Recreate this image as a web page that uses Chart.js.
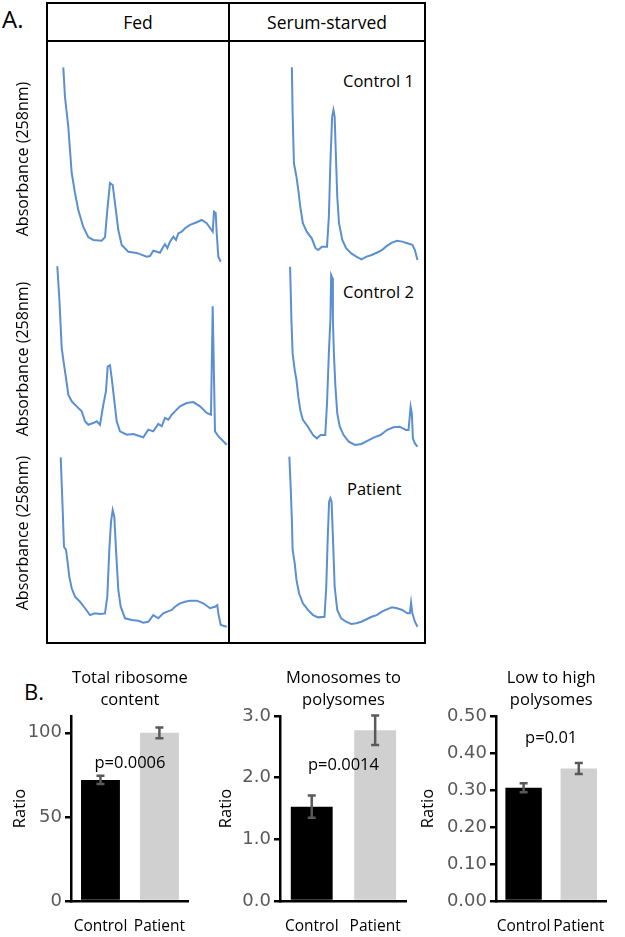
<!DOCTYPE html>
<html>
<head>
<meta charset="utf-8">
<script src="https://cdn.jsdelivr.net/npm/chart.js@4/dist/chart.umd.min.js"></script>
<style>
  body { margin: 0; background: #fff; font-family: 'Open Sans', sans-serif; }
  #page { position: relative; width: 625px; height: 937px; overflow: hidden; }
  .abs { position: absolute; }
  .line { position: absolute; background: #000; }
  .hdr { position: absolute; top: 2px; height: 40px; display: flex; align-items: center; justify-content: center; font-size: 17.5px; }
  .lbl { position: absolute; font-size: 16.5px; line-height: 20px; white-space: nowrap; }
  canvas { position: absolute; }
</style>
</head>
<body>
<div id="page">
  <div class="abs" style="left:2px;top:2px;font-size:24px;line-height:34px;">A.</div>
  <div class="abs" style="left:24px;top:675px;font-size:22px;line-height:32px;">B.</div>

  <!-- panel A frame -->
  <div class="abs" style="left:46px;top:2px;width:380px;height:642px;border:2px solid #000;box-sizing:border-box;"></div>
  <div class="line" style="left:46px;top:40px;width:380px;height:2px;"></div>
  <div class="line" style="left:228px;top:2px;width:2px;height:642px;"></div>
  <div class="hdr" style="left:47px;width:182px;">Fed</div>
  <div class="hdr" style="left:229px;width:196px;">Serum-starved</div>
  <div class="lbl" style="left:343px;top:71px;">Control 1</div>
  <div class="lbl" style="left:343px;top:282px;">Control 2</div>
  <div class="lbl" style="left:347px;top:479px;">Patient</div>

  <canvas id="fed1" width="232" height="214" style="left:0;top:52px"></canvas>
  <canvas id="fed2" width="232" height="202" style="left:0;top:258px"></canvas>
  <canvas id="fed3" width="232" height="198" style="left:0;top:434px"></canvas>
  <canvas id="ss1" width="186" height="214" style="left:238px;top:52px"></canvas>
  <canvas id="ss2" width="186" height="202" style="left:238px;top:258px"></canvas>
  <canvas id="ss3" width="186" height="198" style="left:238px;top:434px"></canvas>

  <canvas id="bar1" width="205" height="282" style="left:0;top:655px"></canvas>
  <canvas id="bar2" width="215" height="282" style="left:205px;top:655px"></canvas>
  <canvas id="bar3" width="215" height="282" style="left:410px;top:655px"></canvas>
</div>
<script>
// PROFILE DATA (gradient position %, normalised A258)
// -----------------------------
let fedControl1Pos = [6.35,7.30,9.16,11.07,12.92,14.78,17.58,20.39,23.20,27.92,29.78,31.07,32.58,34.10,35.39,37.25,39.16,42.87,47.58,53.20,55.06,56.91,58.82,60.67,62.53,63.48,64.78,66.29,68.15,69.66,70.96,72.87,74.72,77.53,81.29,84.10,86.91,90.28,91.01,91.97,92.53,93.43,94.78];
let fedControl1Abs = [0.945,0.801,0.655,0.432,0.335,0.252,0.170,0.121,0.107,0.103,0.121,0.252,0.383,0.374,0.286,0.155,0.083,0.050,0.044,0.026,0.029,0.055,0.050,0.045,0.074,0.087,0.067,0.099,0.123,0.107,0.139,0.147,0.164,0.180,0.193,0.204,0.188,0.147,0.244,0.238,0.141,0.026,0.001];

let fedControl2Pos = [2.98,4.10,5.45,6.74,7.87,9.16,11.07,13.88,16.69,18.54,20.39,23.20,25.11,26.97,28.82,30.34,31.29,32.58,33.54,34.83,36.35,38.20,41.97,45.67,49.44,51.29,54.10,56.91,59.72,61.63,63.48,65.34,67.25,69.10,71.91,75.67,79.38,83.15,86.91,89.33,90.28,91.57,93.43,98.15];
let fedControl2Abs = [0.978,0.814,0.557,0.471,0.402,0.316,0.282,0.256,0.230,0.179,0.161,0.170,0.179,0.161,0.264,0.334,0.462,0.468,0.402,0.299,0.179,0.127,0.110,0.113,0.102,0.096,0.136,0.127,0.165,0.153,0.196,0.187,0.213,0.230,0.256,0.273,0.278,0.256,0.222,0.213,0.772,0.127,0.102,0.058];

let fedPatientPos = [4.89,6.01,6.74,7.87,8.60,9.72,11.07,12.92,15.73,18.54,21.35,24.16,26.97,29.78,31.07,32.19,33.15,34.10,35.00,35.96,37.25,38.60,41.01,44.78,48.48,51.29,54.10,56.91,59.72,62.53,64.78,67.25,69.10,71.91,74.72,77.53,81.29,85.00,88.76,91.57,92.87,93.43,94.78,98.15];
let fedPatientAbs = [0.898,0.621,0.428,0.411,0.358,0.270,0.209,0.165,0.138,0.104,0.068,0.077,0.074,0.077,0.165,0.411,0.559,0.621,0.586,0.411,0.200,0.112,0.051,0.042,0.038,0.028,0.033,0.068,0.051,0.077,0.086,0.095,0.112,0.130,0.138,0.144,0.144,0.130,0.104,0.112,0.121,0.077,0.016,0.007];

let ssControl1Pos = [5.79,6.35,7.30,9.16,10.51,11.97,13.88,16.69,20.39,23.20,25.11,27.92,31.63,32.98,34.10,35.39,36.35,37.25,38.20,39.16,40.45,42.87,45.67,49.44,53.20,56.91,60.67,64.44,68.15,71.91,75.67,79.38,83.15,86.91,90.62,94.38,96.24,98.15];
let ssControl1Abs = [0.945,0.722,0.479,0.414,0.350,0.268,0.188,0.147,0.115,0.067,0.058,0.074,0.074,0.220,0.479,0.705,0.738,0.705,0.511,0.317,0.188,0.107,0.067,0.042,0.026,0.013,0.026,0.034,0.045,0.058,0.078,0.094,0.103,0.099,0.091,0.083,0.058,0.010];

let ssControl2Pos = [4.49,5.45,6.35,7.87,9.16,10.51,11.97,13.88,17.58,21.35,24.16,26.97,30.34,31.63,32.98,34.10,34.66,35.56,35.96,36.69,37.81,39.16,41.01,43.82,47.58,52.25,56.91,61.63,66.29,70.96,75.67,80.34,85.00,89.72,91.57,93.09,93.99,94.78,96.24,98.15];
let ssControl2Abs = [0.976,0.701,0.529,0.443,0.392,0.306,0.237,0.186,0.151,0.108,0.091,0.108,0.108,0.272,0.529,0.701,0.933,0.918,0.701,0.529,0.357,0.220,0.151,0.108,0.074,0.057,0.062,0.079,0.096,0.108,0.134,0.148,0.151,0.134,0.134,0.254,0.220,0.091,0.065,0.048];

let ssPatientPos = [3.93,4.89,5.79,6.35,7.87,9.16,11.07,13.88,17.58,21.35,25.11,29.78,31.07,32.19,33.15,34.10,35.00,35.96,37.25,39.16,41.97,45.67,49.44,53.20,56.91,60.67,64.44,68.15,71.91,75.67,79.38,83.15,86.91,90.62,92.53,93.43,94.38,96.24,98.15];
let ssPatientAbs = [0.902,0.744,0.568,0.411,0.341,0.253,0.183,0.130,0.095,0.068,0.056,0.059,0.217,0.481,0.665,0.683,0.665,0.481,0.217,0.095,0.051,0.033,0.021,0.025,0.033,0.046,0.059,0.068,0.086,0.098,0.109,0.104,0.095,0.077,0.077,0.133,0.077,0.033,0.007];

// BAR DATA
// -----------------------------
let groups = ['Control', 'Patient'];
let barTitles = [['Total ribosome', 'content'], ['Monosomes to', 'polysomes'], ['Low to high', 'polysomes']];
let totalRibosome = [72, 100];
let totalRibosomeErr = [2.4, 3.2];
let monoToPoly = [1.53, 2.77];
let monoToPolyErr = [0.18, 0.24];
let lowToHigh = [0.306, 0.358];
let lowToHighErr = [0.012, 0.015];
let pValues = ['p=0.0006', 'p=0.0014', 'p=0.01'];
let pValueHeights = [82, 2.2, 0.44];

// HELPERS
// -----------------------------
const FONT = "'Open Sans', sans-serif";
const traceColor = '#5b8fd2';

function points(xs, ys) {
  let out = [];
  for (let i = 0; i < Math.min(xs.length, ys.length); i++) out.push({x: xs[i], y: ys[i]});
  return out;
}

function profile(id, xs, ys, withTitle) {
  new Chart(document.getElementById(id), {
    type: 'line',
    data: {
      datasets: [{
        data: points(xs, ys),
        borderColor: traceColor,
        borderWidth: 2,
        pointRadius: 0,
        tension: 0,
        clip: false,
      }],
    },
    options: {
      responsive: false,
      animation: false,
      devicePixelRatio: 1,
      layout: { padding: { left: withTitle ? 10 : 4, right: withTitle ? 2 : 4, top: 4, bottom: 4 } },
      plugins: { legend: { display: false }, tooltip: { enabled: false } },
      scales: {
        x: { type: 'linear', min: 0, max: 100, display: false },
        y: {
          min: 0, max: 1,
          display: withTitle,
          ticks: { display: false },
          grid: { display: false, drawTicks: false },
          border: { display: false },
          title: {
            display: true,
            text: 'Absorbance (258nm)',
            color: '#000',
            font: { family: FONT, size: 16 },
            padding: { top: 4, bottom: 4 },
          },
          afterFit: (scale) => { scale.width = 42; },
        },
      },
    },
  });
}

profile('fed1', fedControl1Pos, fedControl1Abs, true);
profile('fed2', fedControl2Pos, fedControl2Abs, true);
profile('fed3', fedPatientPos, fedPatientAbs, true);
profile('ss1', ssControl1Pos, ssControl1Abs, false);
profile('ss2', ssControl2Pos, ssControl2Abs, false);
profile('ss3', ssPatientPos, ssPatientAbs, false);

// error bars + p value label
const errorBars = {
  id: 'errorBars',
  afterDatasetsDraw(chart, args, opts) {
    const ctx = chart.ctx;
    const y = chart.scales.y;
    const x = chart.scales.x;
    const ds = chart.data.datasets[0];
    const meta = chart.getDatasetMeta(0);
    ctx.save();
    ctx.strokeStyle = '#595959';
    ctx.lineWidth = 2.5;
    meta.data.forEach((bar, j) => {
      const v = ds.data[j], e = ds.errors[j];
      const t = y.getPixelForValue(v + e), b = y.getPixelForValue(v - e);
      ctx.beginPath();
      ctx.moveTo(bar.x, t); ctx.lineTo(bar.x, b);
      ctx.moveTo(bar.x - 4, t); ctx.lineTo(bar.x + 4, t);
      ctx.moveTo(bar.x - 4, b); ctx.lineTo(bar.x + 4, b);
      ctx.stroke();
    });
    const mx = (x.getPixelForValue(0) + x.getPixelForValue(1)) / 2;
    ctx.fillStyle = '#000';
    ctx.font = '16.5px ' + FONT;
    ctx.textAlign = 'center';
    ctx.textBaseline = 'middle';
    ctx.fillText(opts.label, mx, y.getPixelForValue(opts.at));
    ctx.restore();
  },
};

function barChart(id, title, values, errors, max, step, decimals, pad, axisWidth, pIdx) {
  new Chart(document.getElementById(id), {
    type: 'bar',
    data: {
      labels: groups,
      datasets: [{
        data: values,
        errors: errors,
        backgroundColor: ['#000000', '#d0d0d0'],
        barPercentage: 0.66,
        categoryPercentage: 1,
      }],
    },
    options: {
      responsive: false,
      animation: false,
      devicePixelRatio: 1,
      layout: { padding: { left: pad[0], right: pad[1], top: 0, bottom: 0 } },
      plugins: {
        legend: { display: false },
        tooltip: { enabled: false },
        title: {
          display: true,
          text: title,
          fullSize: false,
          color: '#000',
          font: { family: FONT, size: 16.5, weight: 'normal', lineHeight: '22px' },
          padding: { top: 12, bottom: 5 },
        },
        errorBars: { label: pValues[pIdx], at: pValueHeights[pIdx] },
      },
      scales: {
        x: {
          grid: { display: false, drawTicks: false },
          border: { display: true, color: '#000', width: 2.5 },
          ticks: { color: '#000', font: { family: FONT, size: 15.5 }, padding: 16, autoSkip: false, maxRotation: 0, minRotation: 0 },
          afterFit: (scale) => { scale.height = 36; },
        },
        y: {
          min: 0, max: max,
          border: { display: true, color: '#000', width: 2.5 },
          grid: { drawOnChartArea: false, drawTicks: true, tickLength: 6, color: '#000', lineWidth: 2.5 },
          ticks: {
            stepSize: step,
            includeBounds: false,
            color: '#595959',
            padding: 3,
            font: { family: "'DejaVu Sans', sans-serif", size: 18 },
            callback: (v) => decimals ? Number(v).toFixed(decimals) : v,
          },
          title: {
            display: true,
            text: 'Ratio',
            color: '#000',
            font: { family: FONT, size: 16.5 },
            padding: { top: 4, bottom: 4 },
          },
          afterFit: (scale) => { scale.width = axisWidth; },
        },
      },
    },
    plugins: [errorBars],
  });
}

barChart('bar1', barTitles[0], totalRibosome, totalRibosomeErr, 110, 50, 0, [6, 4], 65, 0);
barChart('bar2', barTitles[1], monoToPoly, monoToPolyErr, 3, 1, 1, [7, 5], 68, 1);
barChart('bar3', barTitles[2], lowToHigh, lowToHighErr, 0.5, 0.1, 2, [4, 2], 82, 2);
</script>
</body>
</html>
